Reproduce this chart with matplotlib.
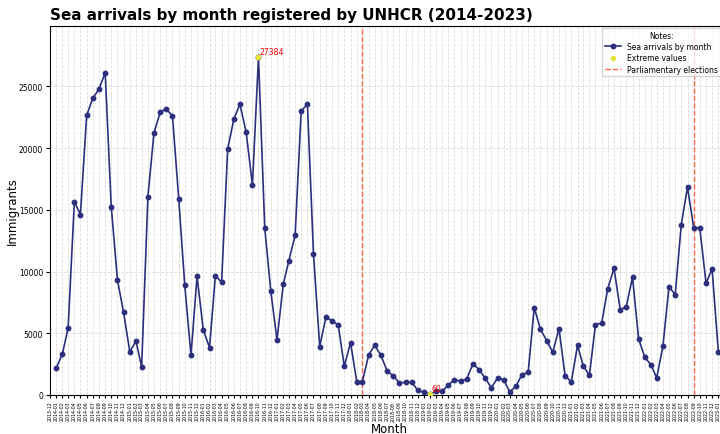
import pandas as pd
import matplotlib
matplotlib.use('Agg')
import matplotlib.pyplot as plt
import matplotlib.dates as mdates

# Monthly sea arrivals (UNHCR), Jan 2014 - Jan 2023
arrivals_2014 = [2171, 3352, 5433, 15677, 14623, 22651, 24030, 24787, 26111, 15272, 9298, 6730]
arrivals_2015 = [3514, 4360, 2270, 16056, 21219, 22921, 23192, 22597, 15921, 8893, 3217, 9623]
arrivals_2016 = [5271, 3838, 9677, 9136, 19921, 22381, 23570, 21273, 17002, 27384, 13569, 8433]
arrivals_2017 = [4460, 8974, 10893, 12947, 23030, 23543, 11461, 3919, 6325, 6001, 5676, 2325]
arrivals_2018 = [4244, 1081, 1081, 3244, 4027, 3217, 1973, 1541, 973, 1027, 1027, 378]
arrivals_2019 = [216, 60, 297, 297, 811, 1243, 1108, 1297, 2541, 2054, 1351, 595]
arrivals_2020 = [1379, 1243, 243, 703, 1649, 1838, 7082, 5325, 4406, 3460, 5379, 1568]
arrivals_2021 = [1054, 4027, 2379, 1595, 5703, 5838, 8623, 10271, 6920, 7163, 9542, 4568]
arrivals_2022 = [3054, 2433, 1379, 3973, 8758, 8136, 13812, 16840, 13542, 13542, 9055, 10217]
arrivals_2023 = [3514]

arrivals = (arrivals_2014 + arrivals_2015 + arrivals_2016 + arrivals_2017 + arrivals_2018
            + arrivals_2019 + arrivals_2020 + arrivals_2021 + arrivals_2022 + arrivals_2023)
months = pd.date_range('2014-01-01', periods=len(arrivals), freq='MS')
df = pd.DataFrame({'month': months, 'arrivals': arrivals})

election_dates = ['2018-03-01', '2022-09-01']

# Extreme values
i_max = df['arrivals'].idxmax()
i_min = df['arrivals'].idxmin()
extremes = df.loc[[i_max, i_min]]

fig = plt.figure(figsize=(7.2, 4.35), dpi=100)
ax = fig.add_axes([50 / 720, 39 / 435, 678 / 720, 369 / 435])

ax.plot(df['month'], df['arrivals'], color='#2b2f7c', marker='o', markersize=3.2,
        linewidth=1.2, label='Sea arrivals by month', zorder=3)
ax.scatter(extremes['month'], extremes['arrivals'], color='#e3e33a', s=9,
           label='Extreme values', zorder=4)
for _, row in extremes.iterrows():
    ax.annotate(str(row['arrivals']), (row['month'], row['arrivals']),
                xytext=(1, 1), textcoords='offset points', color='red',
                fontsize=5.6, ha='left', va='bottom')

for i, d in enumerate(election_dates):
    ax.axvline(pd.Timestamp(d), color='tomato', linestyle='--', linewidth=1,
               label='Parliamentary elections' if i == 0 else None, zorder=2)

ax.set_xlim(pd.Timestamp('2013-12-01'), pd.Timestamp('2023-02-18'))
ax.set_ylim(0, 29900)

ticks = pd.date_range('2013-12-01', '2023-01-01', freq='MS')
ax.set_xticks(ticks)
ax.xaxis.set_major_formatter(mdates.DateFormatter('%Y-%m'))
ax.tick_params(axis='x', labelsize=3.4, rotation=90, length=2.5, pad=1.5)
ax.tick_params(axis='y', labelsize=5.5, length=3, pad=2)

ax.grid(True, linestyle='--', color='#cccccc', linewidth=0.6, alpha=0.7)
ax.set_axisbelow(True)

ax.set_title('Sea arrivals by month registered by UNHCR (2014-2023)',
             fontsize=10.9, fontweight='bold', loc='left', pad=5)
ax.set_xlabel('Month', fontsize=8.5, labelpad=1)
ax.set_ylabel('Immigrants', fontsize=8.5, labelpad=0)

leg = ax.legend(title='Notes:', loc='upper right', fontsize=5.5, title_fontsize=5.5,
                bbox_to_anchor=(671 / 678, 367 / 369), borderaxespad=0,
                labelspacing=0.3, handlelength=2.2, borderpad=0.35)

plt.savefig('out.png', dpi=100)
plt.close()
